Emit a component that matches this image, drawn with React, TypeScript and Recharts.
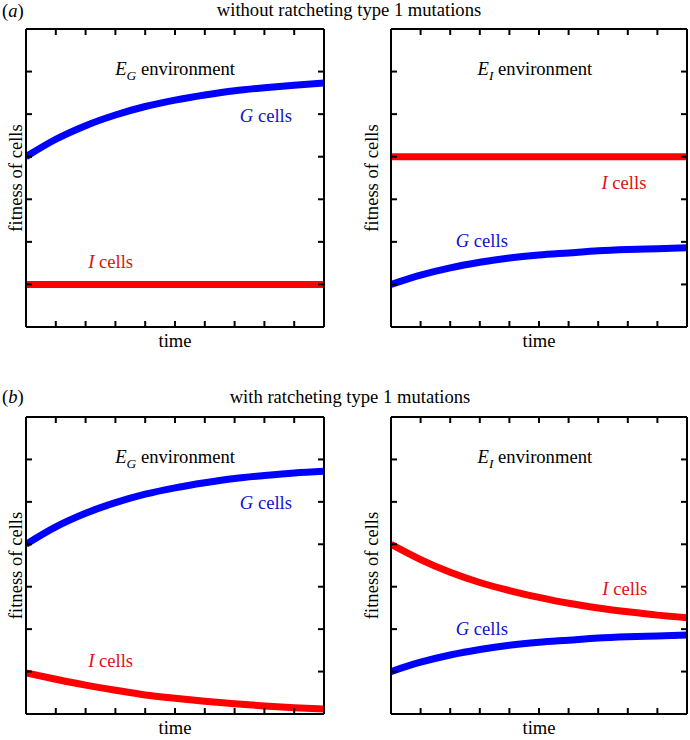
import React from 'react';
import { LineChart, Line, XAxis, YAxis, ReferenceDot } from 'recharts';

// ---------- data ----------
const timeSteps = [0, 1, 2, 3, 4, 5, 6, 7, 8, 9, 10];
const xTicks = [0, 1, 2, 3, 4, 5, 6, 7, 8, 9, 10];
const yTicks = [0, 1, 2, 3, 4, 5, 6, 7];

// (a) without ratcheting, E_G environment
const gCellsA_EG = [4.0, 4.41, 4.73, 4.98, 5.18, 5.33, 5.45, 5.55, 5.62, 5.68, 5.73];
const iCellsA_EG = [1.0, 1.0, 1.0, 1.0, 1.0, 1.0, 1.0, 1.0, 1.0, 1.0, 1.0];
// (a) without ratcheting, E_I environment
const gCellsA_EI = [1.0, 1.22, 1.39, 1.52, 1.62, 1.69, 1.74, 1.79, 1.82, 1.84, 1.86];
const iCellsA_EI = [4.0, 4.0, 4.0, 4.0, 4.0, 4.0, 4.0, 4.0, 4.0, 4.0, 4.0];
// (b) with ratcheting, E_G environment
const gCellsB_EG = [4.0, 4.41, 4.73, 4.98, 5.18, 5.33, 5.45, 5.55, 5.62, 5.68, 5.72];
const iCellsB_EG = [0.97, 0.82, 0.68, 0.56, 0.45, 0.37, 0.3, 0.24, 0.19, 0.15, 0.12];
// (b) with ratcheting, E_I environment
const gCellsB_EI = [1.0, 1.22, 1.39, 1.52, 1.62, 1.69, 1.74, 1.79, 1.82, 1.84, 1.86];
const iCellsB_EI = [4.0, 3.64, 3.34, 3.1, 2.91, 2.75, 2.61, 2.5, 2.41, 2.33, 2.27];

const rowTitles = ['without ratcheting type 1 mutations', 'with ratcheting type 1 mutations'];
const rowLetters = ['a', 'b'];
const xAxisTitle = 'time';
const yAxisTitle = 'fitness of cells';
const envWord = 'environment';
const cellsWord = 'cells';

// ---------- styles ----------
const FONT = 'Liberation Serif';
const FS = 18.6;
const BLUE = '#0000ff';
const RED = '#ff0000';
const BLUE_TXT = '#1212d0';
const RED_TXT = '#e01010';
const txtStyle = { fontFamily: FONT, fontSize: FS };

const buildData = (g: number[], i: number[]) =>
  timeSteps.map((t, k) => ({ t, g: g[k], i: i[k] }));

const EnvText = ({ x, y, sub }: { x: number; y: number; sub: string }) => (
  <text x={x} y={y} textAnchor="middle" style={txtStyle} fill="#000">
    <tspan fontStyle="italic">E</tspan>
    <tspan fontStyle="italic" style={{ fontSize: 13.5 }} dy={5}>{sub}</tspan>
    <tspan dy={-5}>{'\u00a0' + envWord}</tspan>
  </text>
);

const CellsText = ({ x, y, letter, color }: { x: number; y: number; letter: string; color: string }) => (
  <text x={x} y={y} textAnchor="middle" style={txtStyle} fill={color}>
    <tspan fontStyle="italic">{letter}</tspan>
    <tspan>{'\u00a0' + cellsWord}</tspan>
  </text>
);

type Ann =
  | { kind: 'env'; t: number; v: number; sub: string }
  | { kind: 'cells'; t: number; v: number; letter: string; color: string }
  | { kind: 'xtitle'; t: number; v: number }
  | { kind: 'ytitle'; t: number; v: number };

const renderAnn = (a: Ann) => (p: any) => {
  const x = p.cx;
  const y = p.cy;
  if (a.kind === 'env') return <EnvText x={x} y={y} sub={a.sub} />;
  if (a.kind === 'cells') return <CellsText x={x} y={y} letter={a.letter} color={a.color} />;
  if (a.kind === 'xtitle')
    return (
      <text x={x} y={y} textAnchor="middle" style={txtStyle} fill="#000">
        {xAxisTitle}
      </text>
    );
  return (
    <text
      x={x}
      y={y}
      textAnchor="middle"
      style={txtStyle}
      fill="#000"
      transform={`rotate(-90 ${x} ${y})`}
    >
      {yAxisTitle}
    </text>
  );
};

type PanelProps = {
  left: number;
  top: number;
  margin: { top: number; right: number; bottom: number; left: number };
  g: number[];
  i: number[];
  anns: Ann[];
};

const axisStroke = { stroke: '#000', strokeWidth: 2 };
const EmptyTick = () => <g />;

const Panel = ({ left, top, margin, g, i, anns }: PanelProps) => {
  const data = buildData(g, i);
  return (
    <div style={{ position: 'absolute', left, top, width: 345, height: 370 }}>
      <LineChart width={345} height={370} data={data} margin={margin}>
        <XAxis
          xAxisId="bottom"
          orientation="bottom"
          type="number"
          dataKey="t"
          domain={[0, 10]}
          ticks={xTicks}
          interval={0}
          height={1}
          tick={EmptyTick}
          tickSize={-6}
          axisLine={axisStroke}
          tickLine={axisStroke}
          allowDataOverflow
        />
        <XAxis
          xAxisId="top"
          orientation="top"
          type="number"
          dataKey="t"
          domain={[0, 10]}
          ticks={xTicks}
          interval={0}
          height={1}
          tick={EmptyTick}
          tickSize={-6}
          axisLine={axisStroke}
          tickLine={axisStroke}
          allowDataOverflow
        />
        <YAxis
          yAxisId="left"
          orientation="left"
          type="number"
          domain={[0, 7]}
          ticks={yTicks}
          interval={0}
          width={1}
          tick={EmptyTick}
          tickSize={-6}
          axisLine={axisStroke}
          tickLine={axisStroke}
          allowDataOverflow
        />
        <YAxis
          yAxisId="right"
          orientation="right"
          type="number"
          domain={[0, 7]}
          ticks={yTicks}
          interval={0}
          width={1}
          tick={EmptyTick}
          tickSize={-6}
          axisLine={axisStroke}
          tickLine={axisStroke}
          allowDataOverflow
        />
        <Line
          xAxisId="bottom"
          yAxisId="left"
          type="monotone"
          dataKey="g"
          stroke={BLUE}
          strokeWidth={7}
          dot={false}
          activeDot={false}
          isAnimationActive={false}
        />
        <Line
          xAxisId="bottom"
          yAxisId="left"
          type="monotone"
          dataKey="i"
          stroke={RED}
          strokeWidth={7}
          dot={false}
          activeDot={false}
          isAnimationActive={false}
        />
        {anns.map((a, k) => (
          <ReferenceDot
            key={k}
            xAxisId="bottom"
            yAxisId="left"
            x={a.t}
            y={a.v}
            r={0}
            ifOverflow="visible"
            shape={renderAnn(a)}
          />
        ))}
      </LineChart>
    </div>
  );
};

const leftMarginTop = { top: 28, right: 20, bottom: 42, left: 25 };
const rightMarginTop = { top: 28, right: 2, bottom: 42, left: 45 };
const leftMarginBot = { top: 46, right: 20, bottom: 25, left: 25 };
const rightMarginBot = { top: 46, right: 2, bottom: 25, left: 45 };

export default function App() {
  return (
    <div
      style={{
        position: 'absolute',
        left: 0,
        top: 0,
        width: 690,
        height: 740,
        background: '#fff',
        overflow: 'hidden',
      }}
    >
      <svg width={690} height={740} style={{ position: 'absolute', left: 0, top: 0 }}>
        <text x={2} y={16.5} style={txtStyle} fill="#000">
          (<tspan fontStyle="italic">{rowLetters[0]}</tspan>)
        </text>
        <text x={349} y={16} textAnchor="middle" style={txtStyle} fill="#000">
          {rowTitles[0]}
        </text>
        <text x={2} y={402.7} style={txtStyle} fill="#000">
          (<tspan fontStyle="italic">{rowLetters[1]}</tspan>)
        </text>
        <text x={350} y={402.7} textAnchor="middle" style={txtStyle} fill="#000">
          {rowTitles[1]}
        </text>
      </svg>
      <Panel
        left={0}
        top={0}
        margin={leftMarginTop}
        g={gCellsA_EG}
        i={iCellsA_EG}
        anns={[
          { kind: 'env', t: 5, v: 5.92, sub: 'G' },
          { kind: 'cells', t: 8.05, v: 4.81, letter: 'G', color: BLUE_TXT },
          { kind: 'cells', t: 2.84, v: 1.38, letter: 'I', color: RED_TXT },
          { kind: 'xtitle', t: 5, v: -0.46 },
          { kind: 'ytitle', t: -0.12, v: 3.5 },
        ]}
      />
      <Panel
        left={345}
        top={0}
        margin={rightMarginTop}
        g={gCellsA_EI}
        i={iCellsA_EI}
        anns={[
          { kind: 'env', t: 4.86, v: 5.92, sub: 'I' },
          { kind: 'cells', t: 7.87, v: 3.24, letter: 'I', color: RED_TXT },
          { kind: 'cells', t: 3.07, v: 1.88, letter: 'G', color: BLUE_TXT },
          { kind: 'xtitle', t: 5, v: -0.46 },
          { kind: 'ytitle', t: -0.44, v: 3.5 },
        ]}
      />
      <Panel
        left={0}
        top={370}
        margin={leftMarginBot}
        g={gCellsB_EG}
        i={iCellsB_EG}
        anns={[
          { kind: 'env', t: 5, v: 5.92, sub: 'G' },
          { kind: 'cells', t: 8.05, v: 4.83, letter: 'G', color: BLUE_TXT },
          { kind: 'cells', t: 2.84, v: 1.11, letter: 'I', color: RED_TXT },
          { kind: 'xtitle', t: 5, v: -0.47 },
          { kind: 'ytitle', t: -0.12, v: 3.5 },
        ]}
      />
      <Panel
        left={345}
        top={370}
        margin={rightMarginBot}
        g={gCellsB_EI}
        i={iCellsB_EI}
        anns={[
          { kind: 'env', t: 4.86, v: 5.92, sub: 'I' },
          { kind: 'cells', t: 7.9, v: 2.8, letter: 'I', color: RED_TXT },
          { kind: 'cells', t: 3.07, v: 1.86, letter: 'G', color: BLUE_TXT },
          { kind: 'xtitle', t: 5, v: -0.47 },
          { kind: 'ytitle', t: -0.44, v: 3.5 },
        ]}
      />
    </div>
  );
}
